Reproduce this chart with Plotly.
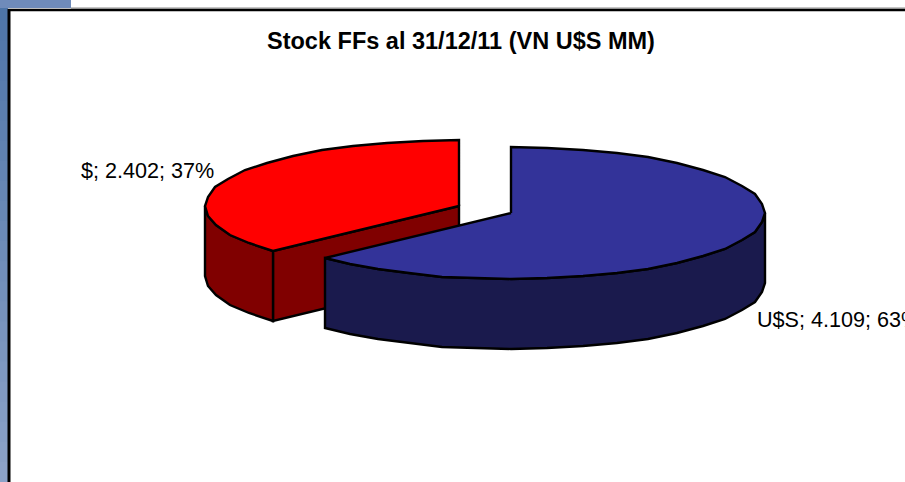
import numpy as np
import plotly.graph_objects as go

# --- data ---
categories = ["U$S", "$"]
values = [4109, 2402]
value_labels = ["4.109", "2.402"]
percent_labels = ["63%", "37%"]
title_text = "Stock FFs al 31/12/11 (VN U$S MM)"

# --- styles and geometry of the tilted pie ---
top_colors = ["#333399", "#FF0000"]
side_colors = ["#1A1A4D", "#800000"]
centers = [(511, 213), (459, 206)]
RX, RY, DEPTH = 254, 66, 70
STEP = 8.0
label_pos = [(755, 319, "left"), (216, 170, "right")]

W, H = 905, 482
total = sum(values)
sweeps = [v / total * 360 for v in values]
starts = [0, sweeps[0]]


def arc(center, a0, a1):
    # polygon arc that always passes through the ellipse extremes at 90/180/270
    stops = [a0] + [q for q in (90, 180, 270) if a0 < q < a1] + [a1]
    t = []
    for s, e in zip(stops[:-1], stops[1:]):
        n = max(2, int(round((e - s) / STEP)) + 1)
        t.extend(np.linspace(s, e, n)[:-1])
    t.append(a1)
    t = np.radians(np.array(t))
    return np.round(center[0] + RX * np.sin(t)), np.round(center[1] - RY * np.cos(t))


def poly(fig, xs, ys, fill):
    fig.add_trace(go.Scatter(
        x=list(xs) + [xs[0]], y=list(ys) + [ys[0]], mode="lines", fill="toself",
        fillcolor=fill, line=dict(color="black", width=2.4, shape="linear"),
        hoverinfo="skip", showlegend=False))


fig = go.Figure()

# red slice (behind)
c = centers[1]
a0, a1 = starts[1], starts[1] + sweeps[1]
ax, ay = arc(c, a0, a1)
# cut wall from the split point to the centre
poly(fig, [ax[0], c[0], c[0], ax[0]], [ay[0], c[1], c[1] + DEPTH, ay[0] + DEPTH], side_colors[1])
# outer wall as far as the leftmost point of the ellipse
wx, wy = arc(c, a0, 270)
poly(fig, list(wx) + list(wx[::-1]), list(wy) + list(wy[::-1] + DEPTH), side_colors[1])
# top face
poly(fig, [c[0]] + list(ax), [c[1]] + list(ay), top_colors[1])

# blue slice (in front)
c = centers[0]
a0, a1 = starts[0], starts[0] + sweeps[0]
wx, wy = arc(c, 90, a1)
poly(fig, list(wx) + list(wx[::-1]), list(wy) + list(wy[::-1] + DEPTH), side_colors[0])
ax, ay = arc(c, a0, a1)
poly(fig, [c[0]] + list(ax), [c[1]] + list(ay), top_colors[0])

# page background pieces: blue slide bands and black frame
shapes = []
band_steps = 24
for i in range(band_steps):
    f = i / (band_steps - 1)
    col = "rgb({},{},{})".format(int(78 + f * 62), int(117 + f * 45), int(168 + f * 32))
    shapes.append(dict(type="rect", xref="x", yref="y", x0=0, x1=8,
                       y0=H * i / band_steps, y1=H * (i + 1) / band_steps + 2,
                       fillcolor=col, line_width=0, layer="below"))
shapes.append(dict(type="rect", xref="x", yref="y", x0=0, x1=71, y0=0, y1=8,
                   fillcolor="#6F8BBA", line_width=0, layer="below"))
shapes.append(dict(type="line", xref="x", yref="y", x0=71, x1=W, y0=8, y1=8,
                   line=dict(color="#8A8A8A", width=1), layer="below"))
shapes.append(dict(type="line", xref="x", yref="y", x0=8, x1=W, y0=10, y1=10,
                   line=dict(color="black", width=2.5), layer="below"))
shapes.append(dict(type="line", xref="x", yref="y", x0=9, x1=9, y0=9, y1=H,
                   line=dict(color="black", width=3), layer="below"))

annotations = [dict(text="<b>" + title_text + "</b>", x=461, y=41, xref="x", yref="y",
                    showarrow=False, font=dict(size=23.5, color="black"))]
for cat, vl, pl, (lx, ly, anchor) in zip(categories, value_labels, percent_labels, label_pos):
    annotations.append(dict(text=f"{cat}; {vl}; {pl}", x=lx, y=ly, xref="x", yref="y",
                            xanchor=anchor, showarrow=False,
                            font=dict(size=21.6, color="black")))

fig.update_layout(
    width=W, height=H, margin=dict(l=0, r=0, t=0, b=0),
    paper_bgcolor="white", plot_bgcolor="white",
    font=dict(family="Liberation Sans, Arial, sans-serif"),
    xaxis=dict(range=[0, W], visible=False, fixedrange=True),
    yaxis=dict(range=[H, 0], visible=False, fixedrange=True),
    shapes=shapes, annotations=annotations, showlegend=False,
)
fig.write_html("out.html", config=dict(displayModeBar=False),
               post_script="document.body.style.margin='0';document.body.style.overflow='hidden';")
